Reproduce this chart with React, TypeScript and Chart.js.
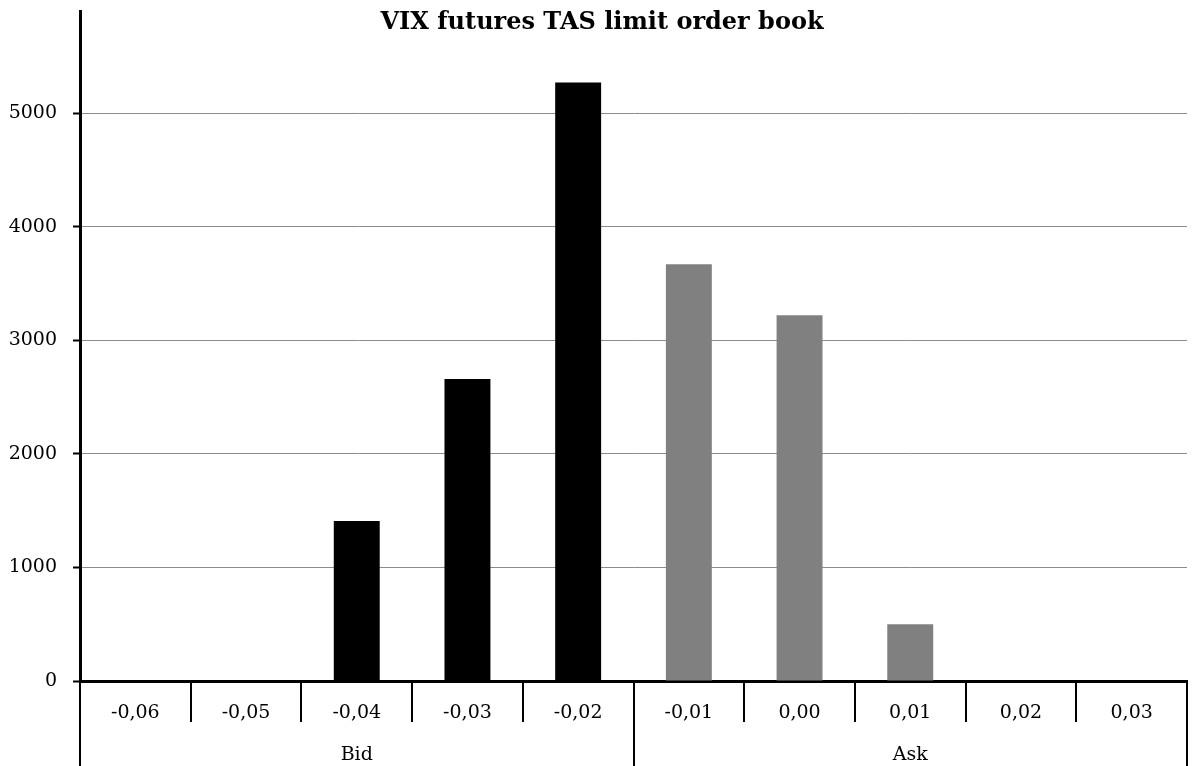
import React, { useEffect, useRef } from 'react';
import { Chart, registerables } from 'chart.js';

Chart.register(...registerables);

const chartTitle = 'VIX futures TAS limit order book';
const categories = ['-0,06', '-0,05', '-0,04', '-0,03', '-0,02', '-0,01', '0,00', '0,01', '0,02', '0,03'];
const groupLabels = ['Bid', 'Ask'];
const bidValues = [0, 0, 1410, 2660, 5270, null, null, null, null, null];
const askValues = [null, null, null, null, null, 3670, 3220, 500, 0, 0];
const yTickValues = [0, 1000, 2000, 3000, 4000, 5000];
const yMax = 5900;

const FONT = "'DejaVu Serif', 'Liberation Serif', serif";

const titlePlugin = {
  id: 'overlayTitle',
  afterDraw(chart: any) {
    const ctx = chart.ctx;
    ctx.save();
    ctx.font = `bold 24px ${FONT}`;
    ctx.fillStyle = '#000';
    ctx.textAlign = 'center';
    ctx.textBaseline = 'alphabetic';
    ctx.fillText(chartTitle, chart.width / 2 + 6, 29);
    ctx.restore();
  },
};

export default function App() {
  const ref = useRef<HTMLCanvasElement | null>(null);

  useEffect(() => {
    if (!ref.current) return;
    const chart = new Chart(ref.current, {
      type: 'bar',
      data: {
        labels: categories,
        datasets: [
          {
            label: 'Bid',
            data: bidValues as any,
            backgroundColor: '#000000',
            barPercentage: 0.415,
            categoryPercentage: 1,
            skipNull: true,
          } as any,
          {
            label: 'Ask',
            data: askValues as any,
            backgroundColor: '#808080',
            barPercentage: 0.415,
            categoryPercentage: 1,
            skipNull: true,
          } as any,
        ],
      },
      options: {
        animation: false,
        responsive: true,
        maintainAspectRatio: false,
        layout: { padding: { top: 11, right: 5, left: 0, bottom: 0 } },
        plugins: {
          legend: { display: false },
          title: { display: false },
          tooltip: { enabled: false },
        },
        scales: {
          x: {
            type: 'category',
            position: 'bottom',
            offset: true,
            grid: {
              offset: true,
              drawOnChartArea: false,
              tickLength: 41,
              color: '#000',
              tickColor: '#000',
              lineWidth: 2,
              tickWidth: 2,
            },
            border: { display: true, color: '#000', width: 3 },
            ticks: {
              color: '#000',
              font: { family: FONT, size: 19 },
              padding: -20,
              maxRotation: 0,
              autoSkip: false,
            },
            afterFit: (s: any) => { s.height = 41; },
          },
          x2: {
            type: 'category',
            position: 'bottom',
            labels: groupLabels,
            offset: true,
            grid: {
              offset: true,
              drawOnChartArea: false,
              tickLength: 44,
              color: '#000',
              tickColor: '#000',
              lineWidth: 2,
              tickWidth: 2,
            },
            border: { display: false },
            ticks: {
              color: '#000',
              font: { family: FONT, size: 19 },
              padding: -22,
              maxRotation: 0,
              autoSkip: false,
            },
            afterFit: (s: any) => { s.height = 44; },
          },
          y: {
            type: 'linear',
            min: 0,
            max: yMax,
            afterBuildTicks: (s: any) => {
              s.ticks = yTickValues.map((v) => ({ value: v }));
            },
            grid: {
              color: '#8c8c8c',
              lineWidth: 1,
              tickLength: 7,
              tickColor: '#000',
              tickWidth: 2,
            },
            border: { display: true, color: '#000', width: 3 },
            ticks: {
              color: '#000',
              font: { family: FONT, size: 19 },
              padding: 16,
              callback: (v: any) => String(v),
            },
            afterFit: (s: any) => {
              s.width = 80;
              s.paddingTop = 0;
              s.paddingBottom = 0;
            },
          },
        },
      },
      plugins: [titlePlugin],
    } as any);
    return () => chart.destroy();
  }, []);

  return (
    <div style={{ position: 'absolute', left: 0, top: 0, width: 1192, height: 766 }}>
      <canvas ref={ref} />
    </div>
  );
}
